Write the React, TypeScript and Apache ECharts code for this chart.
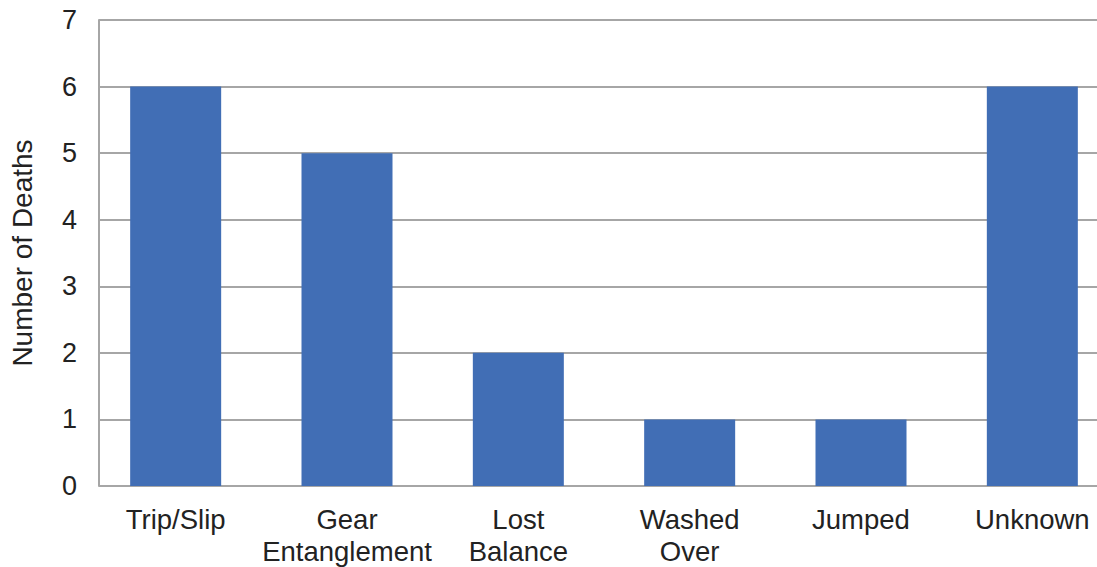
import React, { useEffect, useRef } from "react";
import * as echarts from "echarts";

const categories = ["Trip/Slip", "Gear\nEntanglement", "Lost\nBalance", "Washed\nOver", "Jumped", "Unknown"];
const deaths = [6, 5, 2, 1, 1, 6];
const yTicks = { min: 0, max: 7, interval: 1 };
const yTitle = "Number of Deaths";

const CHART_W = 1140;

export default function App() {
  const ref = useRef<HTMLDivElement>(null);
  useEffect(() => {
    if (!ref.current) return;
    const chart = echarts.init(ref.current, null, { renderer: "svg" });
    const font = "'Liberation Sans', Arial, Helvetica, sans-serif";
    const gridColor = "#A6A6A6";
    chart.setOption({
      animation: false,
      backgroundColor: "#ffffff",
      textStyle: { fontFamily: font },
      grid: [
        { left: 99, right: CHART_W - 1097, top: 20, bottom: 81, outerBoundsMode: "none", containLabel: false },
        { left: 90, width: 1028, top: 20, bottom: 81, outerBoundsMode: "none", containLabel: false },
      ],
      xAxis: [
        { type: "value", gridIndex: 0, show: false, min: 0, max: 1 },
        {
          type: "category",
          gridIndex: 1,
          data: categories,
          axisLine: { show: false },
          axisTick: { show: false },
          axisLabel: {
            interval: 0,
            color: "#222222",
            fontSize: 27.5,
            lineHeight: 32,
            margin: 17,
            fontFamily: font,
          },
        },
      ],
      yAxis: [
        {
          type: "value",
          gridIndex: 0,
          min: yTicks.min,
          max: yTicks.max,
          interval: yTicks.interval,
          name: yTitle,
          nameLocation: "middle",
          nameGap: 63,
          nameTextStyle: { fontSize: 28, color: "#222222", fontFamily: font },
          axisLine: { show: true, lineStyle: { color: gridColor, width: 2 } },
          axisTick: { show: false },
          axisLabel: { color: "#222222", fontSize: 27, margin: 22, fontFamily: font },
          splitLine: { show: true, lineStyle: { color: gridColor, width: 2 } },
        },
        {
          type: "value",
          gridIndex: 1,
          min: yTicks.min,
          max: yTicks.max,
          interval: yTicks.interval,
          show: false,
          splitLine: { show: false },
        },
      ],
      series: [
        {
          type: "bar",
          xAxisIndex: 1,
          yAxisIndex: 1,
          data: deaths,
          barWidth: 91,
          itemStyle: { color: "#416EB5" },
        },
      ],
    });
    return () => chart.dispose();
  }, []);
  return (
    <div style={{ position: "fixed", left: 0, top: 0, width: 1097, height: 567, overflow: "hidden" }}>
      <div ref={ref} style={{ width: CHART_W, height: 567 }} />
    </div>
  );
}
